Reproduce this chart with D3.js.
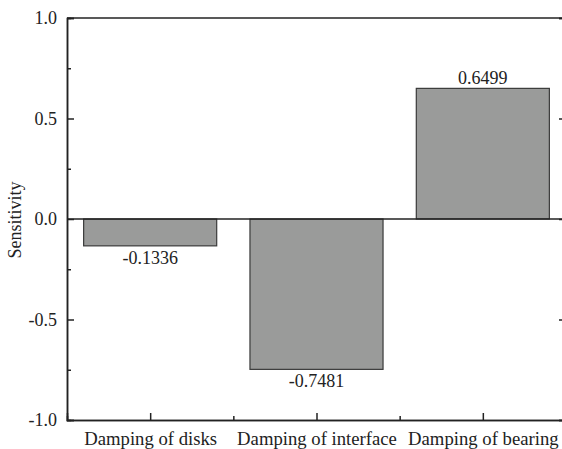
<!DOCTYPE html>
<html>
<head>
<meta charset="utf-8">
<script src="https://d3js.org/d3.v7.min.js"></script>
<style>
  body { margin: 0; background: #fff; }
</style>
</head>
<body>
<div id="chart"></div>
<script>

// data
var categories = ["Damping of disks", "Damping of interface", "Damping of bearing"];
var sensitivity = [-0.1336, -0.7481, 0.6499];
var yTicks = [-1.0, -0.5, 0.0, 0.5, 1.0];
var yMinorTicks = [-0.75, -0.25, 0.25, 0.75];

var W = 562, H = 449;
var margin = {top: 18, right: -4, bottom: 29, left: 67},
    width = W - margin.left - margin.right,
    height = H - margin.top - margin.bottom;

var serif = "'Liberation Serif', 'Times New Roman', serif";

var svg = d3.select("#chart")
  .append("svg")
    .attr("width", W)
    .attr("height", H)
  .append("g")
    .attr("transform", "translate(" + margin.left + "," + margin.top + ")");

// x is a linear scale 0.5..3.5 so the minor ticks fall between categories
var x = d3.scaleLinear()
  .domain([0.5, categories.length + 0.5])
  .range([0, width]);

var y = d3.scaleLinear()
  .domain([-1, 1])
  .range([height, 0]);

var step = x(2) - x(1);
var barW = step * 0.8;

// bars
svg.selectAll(".bar")
  .data(sensitivity)
  .enter().append("rect")
    .attr("class", "bar")
    .attr("x", function(d, i) { return x(i + 1) - barW / 2; })
    .attr("y", function(d) { return y(Math.max(0, d)); })
    .attr("width", barW)
    .attr("height", function(d) { return Math.abs(y(d) - y(0)); })
    .style("fill", "#9a9b9a")
    .style("stroke", "#3a3a3a")
    .style("stroke-width", 1.2);

// zero line
svg.append("line")
  .attr("x1", 0).attr("x2", width)
  .attr("y1", y(0)).attr("y2", y(0))
  .style("stroke", "#222")
  .style("stroke-width", 1.5);

// value labels
svg.selectAll(".val")
  .data(sensitivity)
  .enter().append("text")
    .attr("class", "val")
    .attr("x", function(d, i) { return x(i + 1); })
    .attr("y", function(d) { return d < 0 ? y(d) + 18 : y(d) - 4; })
    .attr("text-anchor", "middle")
    .attr("font-family", serif)
    .attr("font-size", 18)
    .attr("fill", "#222")
    .text(function(d) { return d.toFixed(4); });

// axes: ticks pointing inward
var fmt = function(d) { return d.toFixed(1); };  // plain hyphen minus
var left = svg.append("g")
  .call(d3.axisLeft(y).tickValues(yTicks).tickSize(-7).tickPadding(10).tickFormat(fmt));
var leftMinor = svg.append("g")
  .call(d3.axisLeft(y).tickValues(yMinorTicks).tickSize(-4).tickFormat(""));
var right = svg.append("g")
  .attr("transform", "translate(" + width + ",0)")
  .call(d3.axisRight(y).tickValues(yTicks).tickSize(-7).tickFormat(""));
var rightMinor = svg.append("g")
  .attr("transform", "translate(" + width + ",0)")
  .call(d3.axisRight(y).tickValues(yMinorTicks).tickSize(-4).tickFormat(""));

var bottom = svg.append("g")
  .attr("transform", "translate(0," + height + ")")
  .call(d3.axisBottom(x).tickValues([1, 2, 3]).tickSize(-7).tickPadding(12)
    .tickFormat(function(d) { return categories[d - 1]; }));
var bottomMinor = svg.append("g")
  .attr("transform", "translate(0," + height + ")")
  .call(d3.axisBottom(x).tickValues([1.5, 2.5]).tickSize(-4).tickFormat(""));

// top border
svg.append("line")
  .attr("x1", 0).attr("x2", width)
  .attr("y1", 0).attr("y2", 0)
  .style("stroke", "#222")
  .style("stroke-width", 1.5);

[left, leftMinor, right, rightMinor, bottom, bottomMinor].forEach(function(g) {
  g.attr("font-family", serif).attr("font-size", 18);
  g.select(".domain").style("stroke", "#222").style("stroke-width", 1.5);
  g.selectAll(".tick line").style("stroke", "#222").style("stroke-width", 1.5);
  g.selectAll(".tick text").attr("fill", "#222");
});
bottom.attr("font-size", 18.7);

// y axis label
svg.append("text")
  .attr("transform", "rotate(-90)")
  .attr("x", -(y(0) + 1))
  .attr("y", -46)
  .attr("text-anchor", "middle")
  .attr("font-family", serif)
  .attr("font-size", 18)
  .attr("fill", "#222")
  .text("Sensitivity");

</script>
</body>
</html>
